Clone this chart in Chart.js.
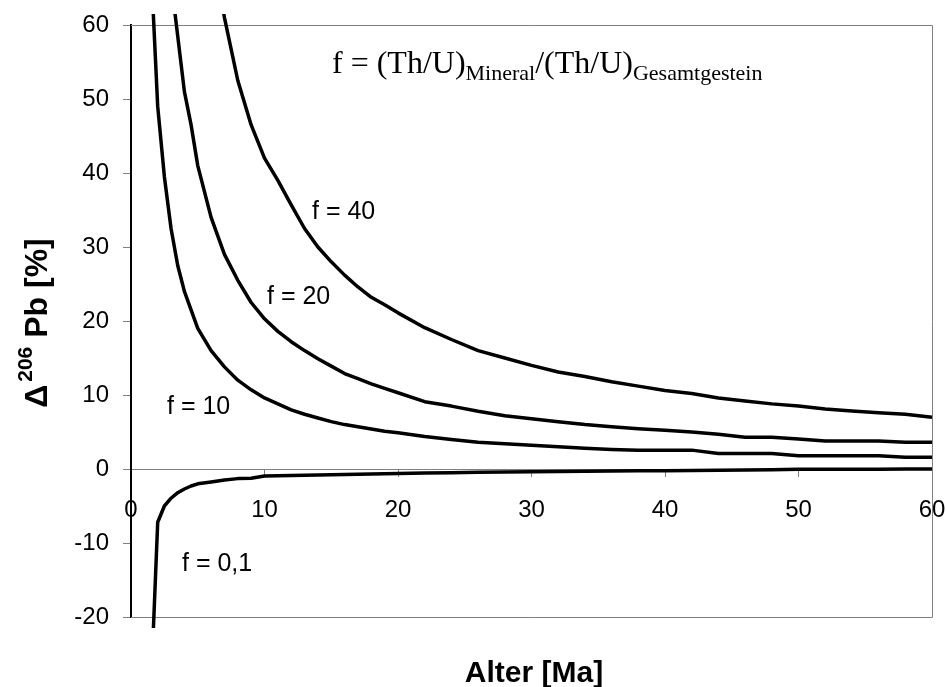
<!DOCTYPE html>
<html>
<head>
<meta charset="utf-8">
<script src="https://cdn.jsdelivr.net/npm/chart.js@4.4.1/dist/chart.umd.min.js"></script>
<style>
  html, body { margin: 0; padding: 0; background: #fff; }
</style>
</head>
<body>
<canvas id="chart" width="946" height="687"></canvas>
<script>
// Alter [Ma]
const ages = [1.5, 2, 2.5, 3, 3.5, 4, 4.5, 5, 6, 7, 8, 9, 10, 11, 12, 13, 14, 15, 16, 17, 18, 19, 20,
  22, 24, 26, 28, 30, 32, 34, 36, 38, 40, 42, 44, 46, 48, 50, 52, 54, 56, 58, 60];

// Δ206Pb [%] for each f
const f40 = [null, null, null, null, null, null, null, null, 72, 61, 52.5, 46.5, 42, 39, 35.7, 32.5, 30.0, 28.0, 26.2, 24.6, 23.2, 22.2, 21.1,
  19.1, 17.5, 16.0, 15.0, 14.0, 13.1, 12.5, 11.8, 11.2, 10.6, 10.2, 9.6, 9.2, 8.8, 8.5, 8.1, 7.85, 7.6, 7.4, 7.0];
const f20 = [null, null, null, 66, 58.5, 51, 46.5, 41, 34, 29, 25.5, 22.5, 20.3, 18.6, 17.2, 16.0, 14.9, 13.9, 12.9, 12.2, 11.5, 10.9, 10.3,
  9.1, 8.5, 7.8, 7.2, 6.8, 6.4, 6.0, 5.7, 5.45, 5.25, 5.0, 4.7, 4.3, 4.3, 4.05, 3.8, 3.8, 3.8, 3.6, 3.6];
const f10 = [68, 49, 39.5, 32.5, 27.5, 24, 21.5, 19, 16, 13.8, 12, 10.7, 9.6, 8.8, 8.0, 7.4, 6.9, 6.4, 6.0, 5.7, 5.4, 5.1, 4.9,
  4.4, 4.0, 3.6, 3.4, 3.2, 3.0, 2.8, 2.65, 2.55, 2.55, 2.55, 2.1, 2.1, 2.1, 1.8, 1.8, 1.8, 1.8, 1.6, 1.6];
const f01 = [-29.5, -7.2, -5.0, -3.95, -3.2, -2.7, -2.3, -2.0, -1.75, -1.5, -1.3, -1.25, -0.95, -0.9, -0.87, -0.84, -0.81, -0.78, -0.75, -0.72, -0.68, -0.64, -0.6,
  -0.55, -0.5, -0.45, -0.4, -0.36, -0.33, -0.3, -0.27, -0.24, -0.22, -0.19, -0.16, -0.13, -0.1, -0.05, -0.04, -0.03, -0.02, -0.01, 0];

const curveLabels = ['f = 40', 'f = 20', 'f = 10', 'f = 0,1'];
const xRange = [0, 60];
const yRange = [-20, 60];

const SANS = '"Liberation Sans", Arial, sans-serif';
const SERIF = '"Liberation Serif", "Times New Roman", serif';
const GRAY = '#808080';

function points (vals) {
  return ages.map((a, i) => ({ x: a, y: vals[i] })).filter(p => p.y !== null);
}

function curve (label, vals) {
  return {
    label: label,
    data: points(vals),
    borderColor: '#000',
    borderWidth: 3.5,
    borderJoinStyle: 'round',
    pointRadius: 0,
    tension: 0,
    fill: false,
    clip: { left: 0, top: 11, right: 2, bottom: 11 }
  };
}

const extras = {
  id: 'extras',
  beforeDatasetsDraw (chart) {
    const { ctx, chartArea: a } = chart;
    ctx.save();
    ctx.strokeStyle = GRAY;
    ctx.lineWidth = 1;
    ctx.beginPath();
    ctx.moveTo(a.left, a.top + 0.5);
    ctx.lineTo(a.right + 0.5, a.top + 0.5);
    ctx.lineTo(a.right + 0.5, a.bottom + 0.5);
    ctx.lineTo(a.left, a.bottom + 0.5);
    ctx.stroke();
    ctx.restore();
  },
  afterDraw (chart) {
    const { ctx } = chart;
    ctx.save();
    ctx.fillStyle = '#000';
    ctx.textBaseline = 'alphabetic';

    // curve labels
    ctx.font = '25px ' + SANS;
    ctx.textAlign = 'left';
    ctx.fillText(curveLabels[0], 312, 219);
    ctx.fillText(curveLabels[1], 267, 304);
    ctx.fillText(curveLabels[2], 167, 414);
    ctx.fillText(curveLabels[3], 182, 571);

    // x title
    ctx.font = 'bold 30px ' + SANS;
    ctx.textAlign = 'center';
    ctx.fillText('Alter [Ma]', 534, 682);

    // y title
    ctx.textAlign = 'left';
    ctx.translate(47, 323);
    ctx.rotate(-Math.PI / 2);
    const big = 'bold 32px ' + SANS;
    const sup = 'bold 21px ' + SANS;
    ctx.font = big;
    const wD = ctx.measureText('Δ').width;
    const wP = ctx.measureText(' Pb [%]').width;
    ctx.font = sup;
    const wS = ctx.measureText('206').width + 3;
    let x = -(wD + wS + wP) / 2;
    ctx.font = big;
    ctx.fillText('Δ', x, 0);
    x += wD + 3;
    ctx.font = sup;
    ctx.fillText('206', x, -15);
    x += wS - 3;
    ctx.font = big;
    ctx.fillText(' Pb [%]', x, 0);
    ctx.restore();

    // formula
    ctx.save();
    ctx.fillStyle = '#000';
    ctx.textAlign = 'left';
    ctx.textBaseline = 'alphabetic';
    const main = '32px ' + SERIF;
    const sub = '22px ' + SERIF;
    let fx = 332;
    ctx.font = main;
    ctx.fillText('f = (Th/U)', fx, 73);
    fx += ctx.measureText('f = (Th/U)').width;
    ctx.font = sub;
    ctx.fillText('Mineral', fx, 80);
    fx += ctx.measureText('Mineral').width;
    ctx.font = main;
    ctx.fillText('/(Th/U)', fx, 73);
    fx += ctx.measureText('/(Th/U)').width;
    ctx.font = sub;
    ctx.fillText('Gesamtgestein', fx, 80, 767 - fx);
    ctx.restore();
  }
};

new Chart(document.getElementById('chart'), {
  type: 'line',
  data: {
    datasets: [
      curve(curveLabels[0], f40),
      curve(curveLabels[1], f20),
      curve(curveLabels[2], f10),
      curve(curveLabels[3], f01)
    ]
  },
  options: {
    responsive: false,
    animation: false,
    layout: { padding: { left: 0, top: 25, right: 14, bottom: 70 } },
    plugins: { legend: { display: false }, tooltip: { enabled: false } },
    scales: {
      x: {
        type: 'linear',
        position: { y: 0 },
        min: xRange[0],
        max: xRange[1],
        ticks: { stepSize: 10, padding: 20, color: '#000', font: { family: SANS, size: 24 } },
        grid: { drawOnChartArea: false, drawTicks: true, tickLength: 7, color: GRAY },
        border: { color: GRAY, width: 1 },
        afterFit: (s) => { s.paddingLeft = 0; s.paddingRight = 0; }
      },
      y: {
        type: 'linear',
        position: 'left',
        min: yRange[0],
        max: yRange[1],
        ticks: { stepSize: 10, padding: 14, color: '#000', font: { family: SANS, size: 24 } },
        grid: { drawOnChartArea: false, drawTicks: true, tickLength: 8, color: GRAY },
        border: { color: '#000', width: 2 },
        afterFit: (s) => { s.width = 131; s.paddingTop = 0; s.paddingBottom = 0; }
      }
    }
  },
  plugins: [extras]
});
</script>
</body>
</html>
